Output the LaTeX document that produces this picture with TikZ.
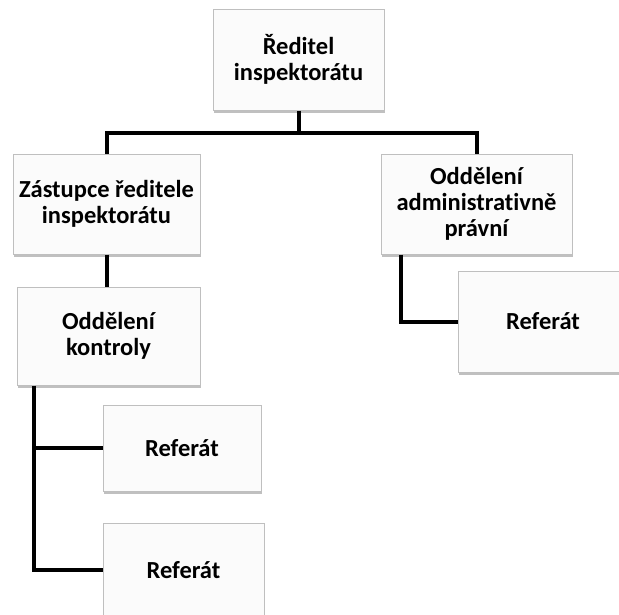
\documentclass[tikz,border=0pt]{standalone}
\usepackage{fontspec}
\setmainfont{Carlito}[RawFeature=-liga]
\usetikzlibrary{shadows}
\definecolor{boxfill}{HTML}{FBFBFB}
\definecolor{boxline}{HTML}{BFBFBF}
\tikzset{
  box/.style={draw=boxline, line width=1pt, fill=boxfill,
    drop shadow={shadow xshift=0.8pt, shadow yshift=-2.5pt, opacity=0.35, fill=black!70},
    align=center, inner sep=0pt,
    font=\fontsize{24.5}{26}\selectfont\bfseries},
  conn/.style={line width=4pt, draw=black, line join=miter}
}
\begin{document}
\begin{tikzpicture}[x=1pt,y=-1pt]
\useasboundingbox (0,0) rectangle (619,614);
\clip (0,0) rectangle (619,614);
\fill[white] (0,0) rectangle (619,614);
\node[box, minimum width=171pt, minimum height=101pt] (dir) at (298.5,59.5) {Ředitel\\inspektorátu};
\node[box, minimum width=187pt, minimum height=100pt] (zast) at (106.5,204) {Zástupce ředitele\\inspektorátu};
\node[box, minimum width=191pt, minimum height=100pt] (admin) at (476.5,204) {Oddělení\\administrativně\\právní};
\node[box, minimum width=183pt, minimum height=98pt] (kont) at (108.5,336) {Oddělení\\kontroly};
\node[box, minimum width=170pt, minimum height=101pt] (refR) at (543,321.5) {Referát};
\node[box, minimum width=158pt, minimum height=86pt] (ref1) at (182,448) {Referát};
\node[box, minimum width=161pt, minimum height=94pt] (ref2) at (183.5,570) {Referát};
\coordinate (busy) at (0,133);
\coordinate (kx) at (34,0);
\coordinate (ax) at (401,0);
\draw[conn] (dir.south) -- (dir.south |- busy);
\draw[conn] (zast.north) -- (zast.north |- busy) -- (admin.north |- busy) -- (admin.north);
\draw[conn] (zast.south) -- (zast.south |- kont.north);
\draw[conn] (kx |- kont.south) -- (kx |- ref2.west) -- (ref2.west);
\draw[conn] (kx |- ref1.west) -- (ref1.west);
\draw[conn] (ax |- admin.south) -- (ax |- refR.west) -- (refR.west);
\end{tikzpicture}
\end{document}
